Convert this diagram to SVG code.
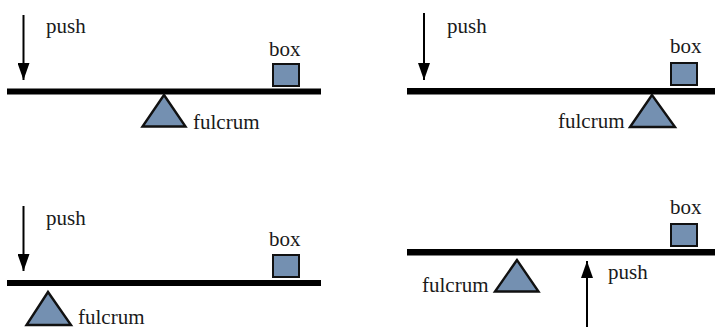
<svg xmlns="http://www.w3.org/2000/svg" width="715" height="328" viewBox="0 0 715 328">
<defs>
<style>
.beam{fill:#000}
.box{fill:#7490b1;stroke:#111;stroke-width:2}
.ful{fill:#7490b1;stroke:#111;stroke-width:2.4;stroke-linejoin:miter}
.lbl{font-family:"Liberation Serif","DejaVu Serif",serif;font-size:21px;fill:#1a1a1a}
.arr{stroke:#000;stroke-width:2;fill:none}
</style>
<marker id="ah" markerUnits="userSpaceOnUse" markerWidth="18" markerHeight="12" refX="17" refY="6" orient="auto">
<path d="M0,0 L17,6 L0,12 Z" fill="#000"/>
</marker>
</defs>
<rect width="715" height="328" fill="#fff"/>

<g id="panel1">
<g id="beam1"><rect class="beam" x="7" y="88.5" width="314" height="6"/></g>
<g id="box1"><rect class="box" x="273" y="64" width="26" height="22"/><text class="lbl" x="269" y="56">box</text></g>
<g id="fulcrum1"><polygon class="ful" points="164,95 142.5,126.5 185.5,126.5"/><text class="lbl" x="193" y="129">fulcrum</text></g>
<g id="push1"><text class="lbl" x="46" y="33">push</text></g>
</g>

<g id="panel2">
<g id="beam2"><rect class="beam" x="407" y="88" width="308" height="6.5"/></g>
<g id="box2"><rect class="box" x="671" y="63" width="26" height="22"/><text class="lbl" x="670" y="53">box</text></g>
<g id="fulcrum2"><polygon class="ful" points="652,95 630,127 675,127"/><text class="lbl" x="558" y="128">fulcrum</text></g>
<g id="push2"><text class="lbl" x="447" y="33">push</text></g>
</g>

<g id="panel3">
<g id="beam3"><rect class="beam" x="7" y="280" width="314" height="6"/></g>
<g id="box3"><rect class="box" x="273" y="255" width="26" height="22"/><text class="lbl" x="269" y="246">box</text></g>
<g id="fulcrum3"><polygon class="ful" points="48,292 26.5,325 71,325"/><text class="lbl" x="78" y="324">fulcrum</text></g>
<g id="push3"><text class="lbl" x="46" y="225">push</text></g>
</g>

<g id="panel4">
<g id="beam4"><rect class="beam" x="407" y="249" width="308" height="6.5"/></g>
<g id="box4"><rect class="box" x="671" y="224" width="26" height="22"/><text class="lbl" x="670" y="214">box</text></g>
<g id="fulcrum4"><polygon class="ful" points="517,260 495,291.5 538.5,291.5"/><text class="lbl" x="422" y="292">fulcrum</text></g>
<g id="push4"><text class="lbl" x="608" y="279">push</text></g>
</g>

<g id="connectors">
<line class="arr" x1="23.5" y1="15" x2="23.5" y2="80" marker-end="url(#ah)"/>
<line class="arr" x1="424" y1="13" x2="424" y2="80" marker-end="url(#ah)"/>
<line class="arr" x1="23.5" y1="206" x2="23.5" y2="271" marker-end="url(#ah)"/>
<line class="arr" x1="587" y1="327" x2="587" y2="261" marker-end="url(#ah)"/>
</g>
</svg>
